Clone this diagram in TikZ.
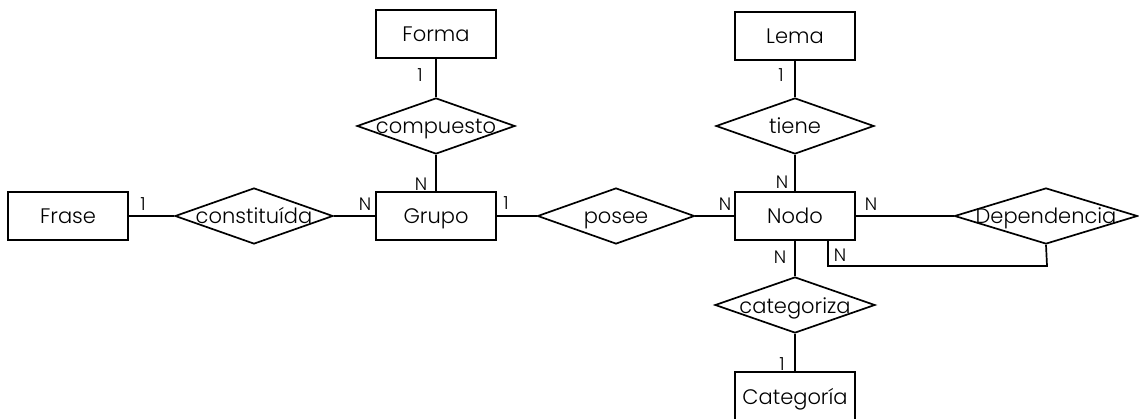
\documentclass[tikz,border=0pt]{standalone}
\usepackage{fontspec}
\setmainfont{Poppins}[UprightFont={* Light}]
\usetikzlibrary{shapes.geometric}
\begin{document}
\begin{tikzpicture}[x=1pt,y=-1pt,
  every node/.style={font=\fontsize{21}{23}\selectfont,text height=16pt,text depth=0pt},
  entity/.style={draw,line width=1.7pt,rectangle,minimum width=120pt,minimum height=48pt,inner sep=0pt},
  rel/.style={draw,line width=1.7pt,diamond,minimum width=158pt,minimum height=56pt,inner sep=0pt},
  link/.style={line width=1.7pt},
  card/.style={font=\fontsize{18}{20}\selectfont,inner sep=0pt,text height=16pt,text depth=0pt}]
\useasboundingbox (0,0) rectangle (1139,419);

% entities
\node[entity] (frase) at (68,216) {Frase};
\node[entity] (grupo) at (436,216) {Grupo};
\node[entity] (forma) at (436,34) {Forma};
\node[entity] (lema) at (795,36) {Lema};
\node[entity] (nodo) at (795,216) {Nodo};
\node[entity] (categoria) at (795,396) {Categoría};

% relationships
\node[rel,label={center:constituída}] (constituida) at (254,216) {};
\node[rel,label={center:compuesto}] (compuesto) at (436,126) {};
\node[rel,minimum width=157pt,label={center:posee}] (posee) at (616,216) {};
\node[rel,label={center:tiene}] (tiene) at (795,126) {};
\node[rel,minimum width=183pt,label={center:Dependencia}] (dependencia) at (1046,216) {};
\node[rel,minimum width=160pt,label={center:categoriza}] (categoriza) at (795,305) {};

% connectors
\draw[link] (frase.east) -- (constituida.west);
\draw[link] (constituida.east) -- (grupo.west);
\draw[link] (forma.south) -- (compuesto.north);
\draw[link] (compuesto.south) -- (grupo.north);
\draw[link] (grupo.east) -- (posee.west);
\draw[link] (posee.east) -- (nodo.west);
\draw[link] (lema.south) -- (tiene.north);
\draw[link] (tiene.south) -- (nodo.north);
\draw[link] (nodo.east) -- (dependencia.west);
\draw[link] (nodo.south) -- (categoriza.north);
\draw[link] (categoriza.south) -- (categoria.north);
\coordinate (loopA) at (828,266);
\coordinate (loopB) at (1047,266);
\draw[link] (nodo.south -| loopA) -- (loopA) -- (loopB) -- (dependencia.south);

% cardinalities
\node[card] (c1) at (143,203) {1};
\node[card] (c2) at (365,203) {N};
\node[card] (c3) at (420,74) {1};
\node[card] (c4) at (421,183) {N};
\node[card] (c5) at (506,202) {1};
\node[card] (c6) at (725,203) {N};
\node[card] (c7) at (781,74) {1};
\node[card] (c8) at (782,181) {N};
\node[card] (c9) at (871,203) {N};
\node[card] (c10) at (780,256) {N};
\node[card] (c11) at (840,254) {N};
\node[card] (c12) at (782,362) {1};
\end{tikzpicture}
\end{document}
